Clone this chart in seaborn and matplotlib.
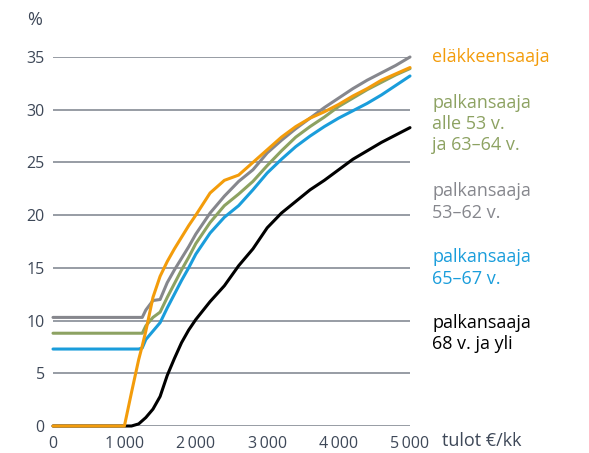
import numpy as np
import pandas as pd
import matplotlib
matplotlib.use("Agg")
import matplotlib.pyplot as plt
import seaborn as sns

# income grid (€/month)
tulot = [0, 1000, 1100, 1200, 1250, 1300, 1400, 1500, 1600, 1700, 1800, 1900, 2000,
         2200, 2400, 2600, 2800, 3000, 3200, 3400, 3600, 3800, 4000, 4200, 4400,
         4600, 4800, 5000]

elakkeensaaja = [0, 0, 3.2, 6.3, 7.6, 9.0, 12.2, 14.2, 15.6, 16.8, 17.9, 19.0, 20.0,
                 22.1, 23.3, 23.8, 25.0, 26.2, 27.4, 28.4, 29.2, 29.8, 30.5, 31.3,
                 32.0, 32.8, 33.4, 34.0]
alle53 = [8.8, 8.8, 8.8, 8.8, 8.8, 9.5, 10.3, 10.8, 12.2, 13.5, 14.8, 16.0, 17.3,
          19.3, 20.9, 22.0, 23.2, 24.7, 26.1, 27.4, 28.4, 29.3, 30.3, 31.1, 31.9,
          32.6, 33.3, 33.9]
v53_62 = [10.3, 10.3, 10.3, 10.3, 10.3, 11.0, 11.9, 12.0, 13.6, 14.8, 15.9, 17.0, 18.2,
          20.2, 21.8, 23.2, 24.3, 25.9, 27.1, 28.2, 29.2, 30.2, 31.1, 32.0, 32.8,
          33.5, 34.2, 35.0]
v65_67 = [7.3, 7.3, 7.3, 7.3, 7.4, 8.2, 9.0, 9.8, 11.2, 12.5, 13.8, 15.0, 16.3,
          18.3, 19.8, 20.9, 22.4, 24.0, 25.3, 26.5, 27.5, 28.4, 29.2, 29.9, 30.6,
          31.4, 32.3, 33.2]
v68 = [0, 0, 0, 0.2, 0.5, 0.8, 1.6, 2.8, 4.8, 6.4, 7.9, 9.1, 10.1,
       11.8, 13.3, 15.2, 16.8, 18.8, 20.2, 21.3, 22.4, 23.3, 24.3, 25.3, 26.1,
       26.9, 27.6, 28.3]

x_ticks = [0, 1000, 2000, 3000, 4000, 5000]
x_labels = ["0", "1\u2009000", "2\u2009000", "3\u2009000", "4\u2009000", "5\u2009000"]

# drawing order: last one ends up on top; last value = label baseline (px from top)
series = [
    ("palkansaaja\n68 v. ja yli", v68, "#000000", 327),
    ("palkansaaja\n65–67 v.", v65_67, "#1a9ddb", 262),
    ("palkansaaja\nalle 53 v.\nja 63–64 v.", alle53, "#8da262", 107),
    ("palkansaaja\n53–62 v.", v53_62, "#86878d", 196),
    ("eläkkeensaaja", elakkeensaaja, "#f39c0b", 62),
]

sns.set_style("white")
plt.rcParams["font.family"] = ["Open Sans", "DejaVu Sans"]
tick_col = "#3e4858"

fig = plt.figure(figsize=(5.89, 4.53), dpi=100)
ax = fig.add_axes([53 / 589, 1 - 426 / 453, (410 - 53) / 589, (426 - 57) / 453])

for yv in range(0, 36, 5):
    ax.axhline(yv, color="#7a818b", lw=1.1, zorder=1)

for name, vals, col, base in series:
    df = pd.DataFrame({"tulot": tulot, "osuus": vals})
    sns.lineplot(data=df, x="tulot", y="osuus", ax=ax, color=col, lw=2.2,
                 zorder=3, clip_on=False)
    fig.text(432 / 589, 1 - (base - 13.5) / 453, name, color=col, fontsize=13,
             ha="left", va="top", linespacing=1.22)

ax.set_xlim(0, 5000)
ax.set_ylim(0, 35)
ax.set_xticks(x_ticks, x_labels)
ax.set_yticks(range(0, 36, 5))
ax.tick_params(length=0, labelsize=11.5, colors=tick_col)
ax.tick_params(axis="y", pad=6)
ax.tick_params(axis="x", pad=7)
ax.set_xlabel("")
ax.set_ylabel("")
for s in ax.spines.values():
    s.set_visible(False)

fig.text(35 / 589, 1 - 20 / 453, "%", color=tick_col, fontsize=13, ha="center", va="center")
fig.text(442 / 589, 1 - 441 / 453, "tulot €/kk", color=tick_col, fontsize=13,
         ha="left", va="center")

fig.savefig("out.png", dpi=100)
